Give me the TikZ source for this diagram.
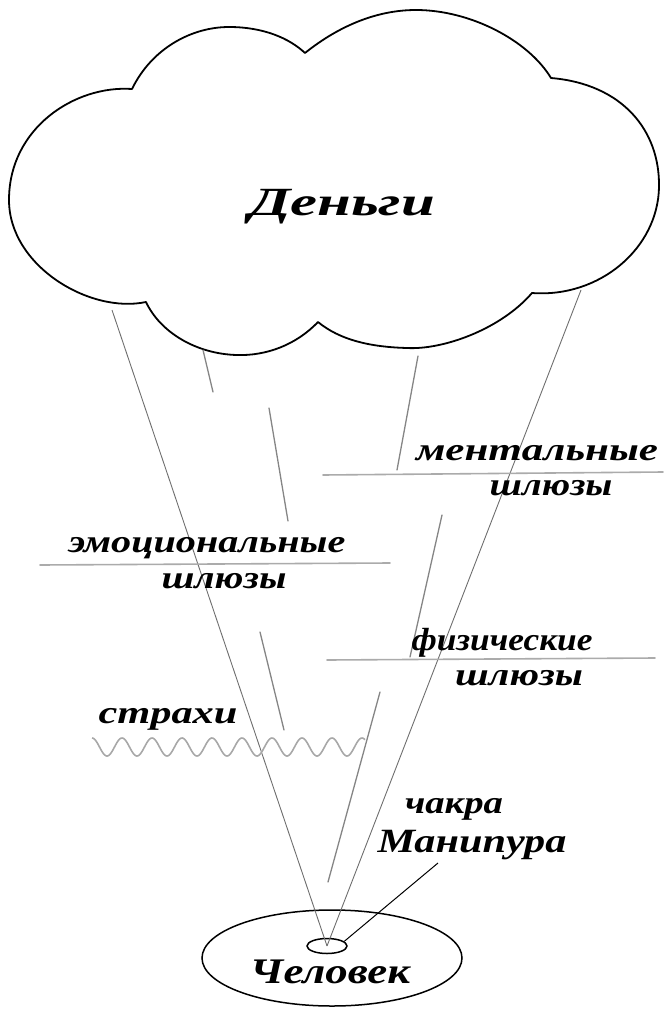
\documentclass[tikz,border=0pt]{standalone}
\usepackage{fontspec}
\setmainfont{Liberation Serif}
\usepackage{graphicx}
\usetikzlibrary{shapes.geometric}
\newcommand{\hw}[3]{\resizebox{#1pt}{\height}{\fontsize{#2}{#2}\selectfont\bfseries\itshape #3}}
\definecolor{raycol}{HTML}{6E6E6E}
\definecolor{strokecol}{HTML}{858585}
\definecolor{rulecol}{HTML}{ABABAB}
\definecolor{wavecol}{HTML}{A8A8A8}
\tikzset{
  cloudline/.style={draw=black, line width=1.8pt, line join=round},
  ray/.style={draw=raycol, line width=0.9pt},
  hand/.style={draw=strokecol, line width=1.3pt, line cap=round},
  rule/.style={draw=rulecol, line width=1.6pt, line cap=round},
  label/.style={inner sep=0pt, anchor=base},
  ringshape/.style={draw=black, ellipse, inner sep=0pt, line width=1.5pt},
}
\begin{document}
\begin{tikzpicture}[x=1pt, y=-1pt]
\useasboundingbox (0,0) rectangle (665,1014);
% cloud
\coordinate (j1) at (132,89);
\coordinate (j2) at (305,53);
\coordinate (j3) at (551,78);
\coordinate (j4) at (532,293);
\coordinate (j5) at (318,322);
\coordinate (j6) at (146,302);
\path[cloudline] (j1)
  .. controls (152,48) and (192,27) .. (229,27)
  .. controls (263,27) and (289,38) .. (j2)
  .. controls (340,25) and (378,10) .. (416,10)
  .. controls (470,10) and (528,40) .. (j3)
  .. controls (622,84) and (660,130) .. (659,187)
  .. controls (658,248) and (600,298) .. (j4)
  .. controls (500,330) and (442,350) .. (407,348)
  .. controls (370,347) and (340,340) .. (j5)
  .. controls (296,345) and (266,356) .. (237,355)
  .. controls (196,354) and (160,332) .. (j6)
  .. controls (90,314) and (9,266) .. (9,200)
  .. controls (9,128) and (75,85) .. (j1) -- cycle;
\node[label] (money) at (342,215) {\hw{186}{40}{Деньги}};
% rays
\coordinate (cl) at (112,310);
\coordinate (cr) at (581,290);
\node[ringshape, minimum width=40, minimum height=15] (chakra) at (327,946) {};
\node[ringshape, minimum width=260, minimum height=96] (person) at (332,958) {};
\draw[ray] (cl) -- (chakra.center);
\draw[ray] (cr) -- (chakra.center);
% hand strokes
\coordinate (s1a) at (203,350); \coordinate (s1b) at (213,392);
\coordinate (s2a) at (418,356); \coordinate (s2b) at (397,470);
\coordinate (s3a) at (269,408); \coordinate (s3b) at (288,521);
\coordinate (s4a) at (260,632); \coordinate (s4b) at (284,730);
\coordinate (s5a) at (442,515); \coordinate (s5b) at (410,657);
\coordinate (s6a) at (380,692); \coordinate (s6b) at (328,882);
\draw[hand] (s1a) -- (s1b);
\draw[hand] (s2a) -- (s2b);
\draw[hand] (s3a) -- (s3b);
\draw[hand] (s4a) -- (s4b);
\draw[hand] (s5a) -- (s5b);
\draw[hand] (s6a) -- (s6b);
% rules
\coordinate (r1a) at (323,475); \coordinate (r1b) at (663,472);
\coordinate (r2a) at (40,565);  \coordinate (r2b) at (390,563);
\coordinate (r3a) at (327,660); \coordinate (r3b) at (655,658);
\draw[rule] (r1a) -- (r1b);
\draw[rule] (r2a) -- (r2b);
\draw[rule] (r3a) -- (r3b);
% wave
\draw[wavecol, line width=1.6pt] plot[domain=0:273, samples=300] ({92+\x}, {747 - 9*cos(12*\x)});
% labels
\node[label] (ment) at (537,460) {\hw{242}{32}{ментальные}};
\node[label] (ment2) at (551,495) {\hw{123}{32}{шлюзы}};
\node[label] (emo) at (207,552) {\hw{277}{32}{эмоциональные}};
\node[label] (emo2) at (224,588) {\hw{125}{32}{шлюзы}};
\node[label] (fiz) at (502,650) {\hw{181}{32}{физические}};
\node[label] (fiz2) at (519,685) {\hw{128}{32}{шлюзы}};
\node[label] (fear) at (168,723) {\hw{139}{32}{страхи}};
\node[label] (chak) at (454,813) {\hw{98}{32}{чакра}};
\node[label] (mani) at (472,852) {\hw{189}{34}{Манипура}};
\node[label] (human) at (330,983) {\hw{160}{36}{Человек}};
% pointer
\coordinate (ptr) at (438,863);
\draw[black, line width=1pt] (chakra.15) -- (ptr);
\end{tikzpicture}
\end{document}
